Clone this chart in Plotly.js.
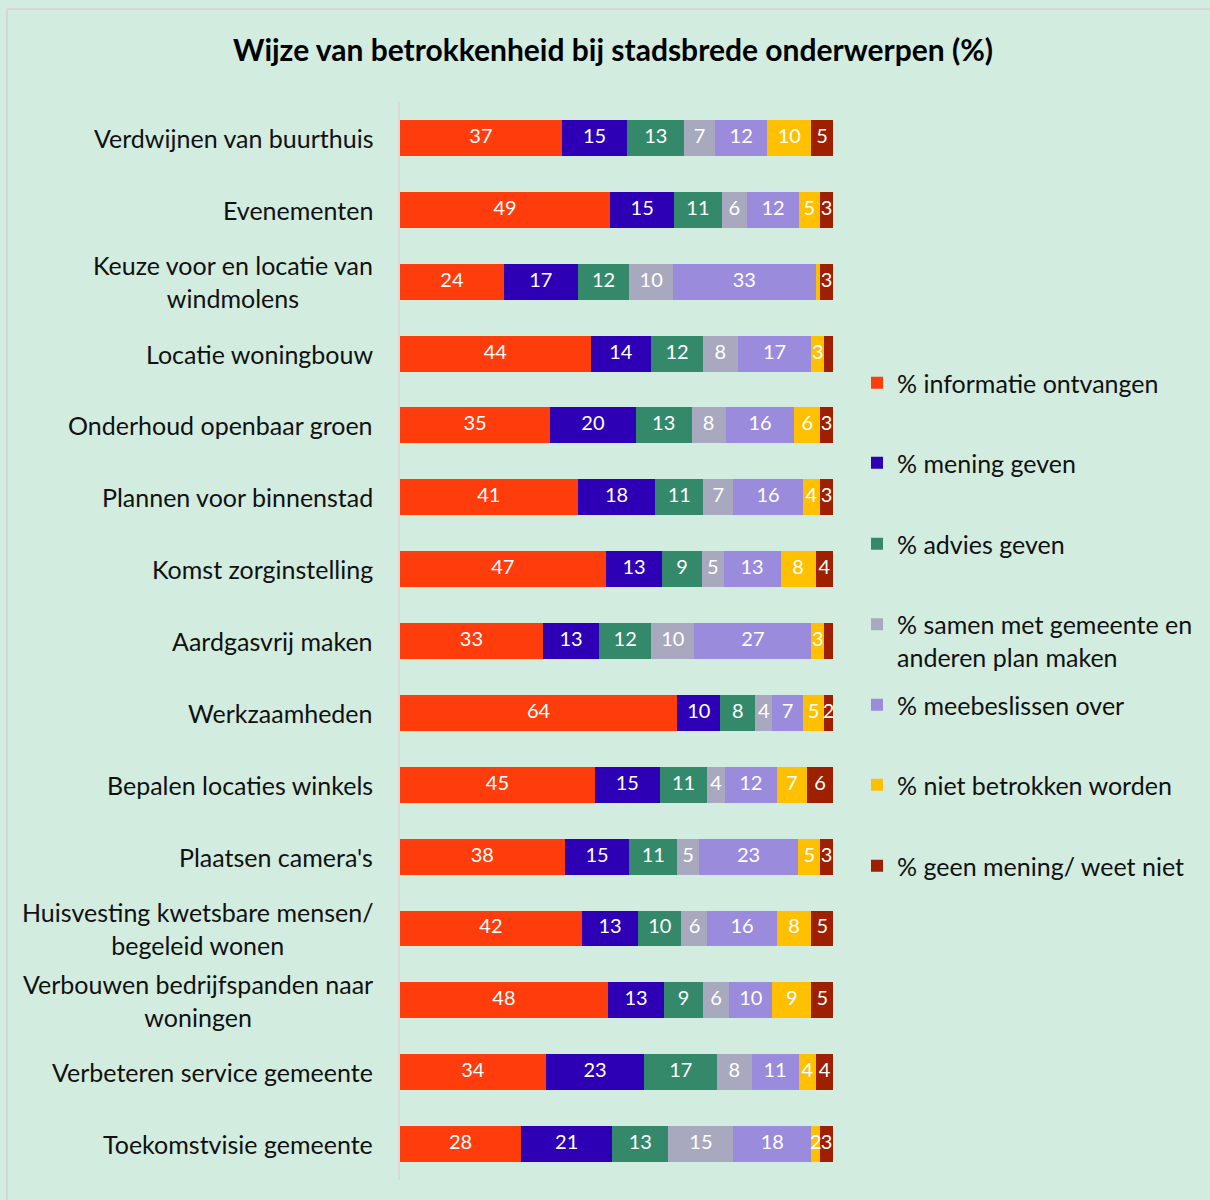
<!DOCTYPE html>
<html>
<head>
<meta charset="utf-8">
<script src="https://cdn.plot.ly/plotly-3.0.1.min.js"></script>
<style>
html,body{margin:0;padding:0;background:#d2ecdf;}
#chart{width:1210px;height:1200px;}
</style>
</head>
<body>
<div id="chart"></div>
<script>
// ---- DATA ----
const categories = [
  "Verdwijnen van buurthuis",
  "Evenementen",
  "Keuze voor en locatie van<br>windmolens",
  "Locatie woningbouw",
  "Onderhoud openbaar groen",
  "Plannen voor binnenstad",
  "Komst zorginstelling",
  "Aardgasvrij maken",
  "Werkzaamheden",
  "Bepalen locaties winkels",
  "Plaatsen camera's",
  "Huisvesting kwetsbare mensen/<br>begeleid wonen",
  "Verbouwen bedrijfspanden naar<br>woningen",
  "Verbeteren service gemeente",
  "Toekomstvisie gemeente"
];
const seriesNames = [
  "% informatie ontvangen",
  "% mening geven",
  "% advies geven",
  "% samen met gemeente en<br>anderen plan maken",
  "% meebeslissen over",
  "% niet betrokken worden",
  "% geen mening/ weet niet"
];
const informatieOntvangen = [37,49,24,44,35,41,47,33,64,45,38,42,48,34,28];
const meningGeven         = [15,15,17,14,20,18,13,13,10,15,15,13,13,23,21];
const adviesGeven         = [13,11,12,12,13,11, 9,12, 8,11,11,10, 9,17,13];
const samenPlanMaken      = [ 7, 6,10, 8, 8, 7, 5,10, 4, 4, 5, 6, 6, 8,15];
const meebeslissen        = [12,12,33,17,16,16,13,27, 7,12,23,16,10,11,18];
const nietBetrokken       = [10, 5, 1, 3, 6, 4, 8, 3, 5, 7, 5, 8, 9, 4, 2];
const geenMening          = [ 5, 3, 3, 2, 3, 3, 4, 2, 2, 6, 3, 5, 5, 4, 3];
// labels not drawn in the original: [series index, category index]
const hiddenLabels = [[5,2],[6,3],[6,7]];

const seriesValues = [informatieOntvangen, meningGeven, adviesGeven, samenPlanMaken, meebeslissen, nietBetrokken, geenMening];
const colors = ["#ff3d0c","#2e00b5","#33896a","#a8a8be","#9b8bdd","#ffc000","#9e2000"];

// ---- LAYOUT HELPERS ----
const W = 1210, H = 1200;
const mL = 400, mR = 377, mT = 102, mB = 20;
const pw = W - mL - mR, ph = H - mT - mB;
const px2x = p => (p - mL) / pw;
const px2y = p => (H - mB - p) / ph;
const FONT = "Lato, 'Open Sans', sans-serif";

// legend item vertical centres (px) for each series
const legendCentres = [383, 463, 544, 640.5, 705, 785, 866];

const totals = categories.map((_, c) => seriesValues.reduce((a, s) => a + s[c], 0));

const traces = [];
seriesNames.forEach((name, s) => {
  traces.push({
    type: "bar",
    orientation: "h",
    name: name,
    y: categories,
    x: seriesValues[s],
    textposition: "none",
    marker: {color: colors[s], line: {width: 0}},
    legend: s === 0 ? "legend" : "legend" + (s + 1),
    hoverinfo: "name+x"
  });
});

// value labels, centred in each (percent-normalised) segment
seriesNames.forEach((name, s) => {
  const xs = [], ys = [], ts = [];
  categories.forEach((cat, c) => {
    if (hiddenLabels.some(h => h[0] === s && h[1] === c)) return;
    let before = 0;
    for (let k = 0; k < s; k++) before += seriesValues[k][c];
    xs.push((before + seriesValues[s][c] / 2) / totals[c] * 100);
    ys.push(cat);
    ts.push(String(seriesValues[s][c]));
  });
  traces.push({
    type: "scatter",
    mode: "text",
    x: xs, y: ys, text: ts,
    textposition: "middle center",
    textfont: {color: "#ffffff", size: 20, family: FONT},
    showlegend: false,
    hoverinfo: "skip",
    cliponaxis: false
  });
});

const annotations = categories.map(c => ({
  x: 0, xref: "paper", y: c, yref: "y",
  xanchor: "right", xshift: -25, yanchor: "middle",
  text: c, align: "center", showarrow: false,
  font: {size: 25, color: "#111111", family: FONT}
}));

const layout = {
  width: W, height: H,
  paper_bgcolor: "#d2ecdf",
  plot_bgcolor: "#d2ecdf",
  margin: {l: mL, r: mR, t: mT, b: mB, pad: 0},
  barmode: "stack",
  barnorm: "percent",
  bargap: 0.5,
  showlegend: true,
  title: {
    text: "<b>Wijze van betrokkenheid bij stadsbrede onderwerpen (%)</b>",
    font: {size: 30, color: "#000000", family: FONT},
    xref: "container", x: 613 / W, xanchor: "center",
    yref: "container", y: 1 - 50 / H, yanchor: "middle"
  },
  xaxis: {range: [0, 100], visible: false, fixedrange: true},
  yaxis: {
    type: "category",
    range: [categories.length - 0.5, -0.5],
    autorange: false,
    showticklabels: false,
    ticks: "",
    showgrid: false,
    zeroline: false,
    showline: true,
    linecolor: "#d9d9d9",
    linewidth: 2
  },
  annotations: annotations,
  shapes: [
    {type: "line", xref: "paper", yref: "paper", x0: px2x(7), x1: px2x(1215), y0: px2y(9), y1: px2y(9), line: {color: "#d6d6d6", width: 2}},
    {type: "line", xref: "paper", yref: "paper", x0: px2x(7), x1: px2x(7), y0: px2y(9), y1: px2y(1205), line: {color: "#d6d6d6", width: 2}}
  ]
};

legendCentres.forEach((cy, s) => {
  const key = s === 0 ? "legend" : "legend" + (s + 1);
  layout[key] = {
    x: px2x(857), xanchor: "left",
    y: px2y(cy), yanchor: "middle",
    valign: "top",
    bgcolor: "rgba(0,0,0,0)",
    font: {size: 25, color: "#111111", family: FONT},
    itemclick: false
  };
});

Plotly.newPlot("chart", traces, layout, {displayModeBar: false, staticPlot: true});
</script>
</body>
</html>
